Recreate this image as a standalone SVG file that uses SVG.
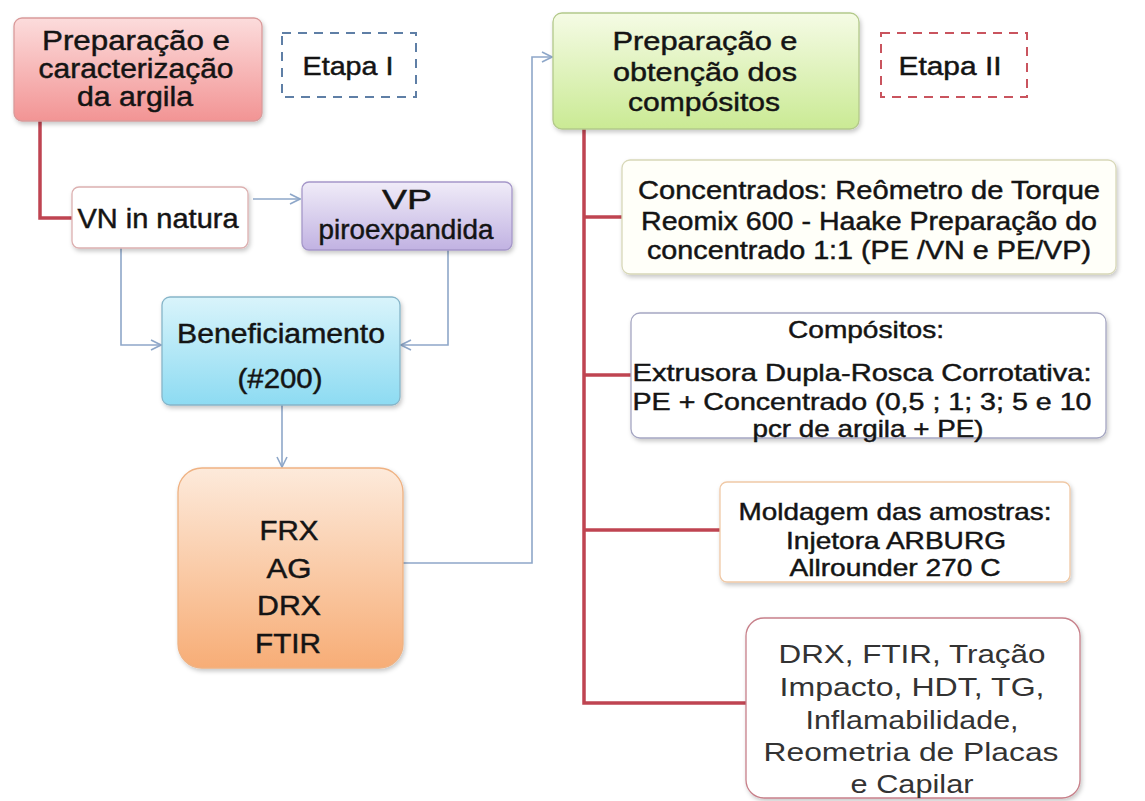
<svg xmlns="http://www.w3.org/2000/svg" width="1145" height="801" viewBox="0 0 1145 801">
<defs>
<style>
text{font-family:"Liberation Sans",Arial,sans-serif;fill:#141414;text-anchor:middle;stroke:#141414;stroke-width:0.45}
.t27{font-size:27px}
.t26{font-size:26px}
.t25{font-size:25px}
.t24{font-size:24px}
.thin{fill:#333;stroke:none}
.box{stroke-width:1.3}
.blue{fill:none;stroke:#8ea7c9;stroke-width:1.6}
.red{fill:none;stroke:#bf4451;stroke-width:3.5;stroke-linejoin:miter}
.dash{fill:#fff;stroke-width:2;stroke-dasharray:9 7}
</style>
<linearGradient id="gRed" x1="0" y1="0" x2="0" y2="1"><stop offset="0" stop-color="#fcdcdc"/><stop offset="1" stop-color="#f29494"/></linearGradient>
<linearGradient id="gPurple" x1="0" y1="0" x2="0" y2="1"><stop offset="0" stop-color="#f0ecf8"/><stop offset="1" stop-color="#c1b2e2"/></linearGradient>
<linearGradient id="gBlue" x1="0" y1="0" x2="0" y2="1"><stop offset="0" stop-color="#d9f4fb"/><stop offset="1" stop-color="#8ddbf2"/></linearGradient>
<linearGradient id="gOrange" x1="0" y1="0" x2="0" y2="1"><stop offset="0" stop-color="#fdeadb"/><stop offset="1" stop-color="#f7ad76"/></linearGradient>
<linearGradient id="gGreen" x1="0" y1="0" x2="0" y2="1"><stop offset="0" stop-color="#f5fbe5"/><stop offset="1" stop-color="#caea94"/></linearGradient>
<filter id="sh" x="-10%" y="-10%" width="125%" height="130%"><feDropShadow dx="1.5" dy="2.5" stdDeviation="2" flood-color="#000" flood-opacity="0.22"/></filter>
<marker id="arr" viewBox="0 0 12 12" refX="11" refY="6" markerWidth="12" markerHeight="12" markerUnits="userSpaceOnUse" orient="auto"><path d="M1,1 L11,6 L1,11" fill="none" stroke="#8ea7c9" stroke-width="1.6"/></marker>
</defs>
<rect width="1145" height="801" fill="#fff"/>

<g id="connectors">
<path class="red" d="M40 121 V218 H72"/>
<path class="red" d="M584 128 V703 H746"/>
<path class="red" d="M584 217 H622"/>
<path class="red" d="M584 375 H631"/>
<path class="red" d="M584 530 H720"/>
<path class="blue" d="M253 199 H300" marker-end="url(#arr)"/>
<path class="blue" d="M121 248 V345 H161" marker-end="url(#arr)"/>
<path class="blue" d="M448 250 V345 H401" marker-end="url(#arr)"/>
<path class="blue" d="M282 405 V467" marker-end="url(#arr)"/>
<path class="blue" d="M403 563 H532 V57 H552" marker-end="url(#arr)"/>
</g>

<g id="n-prep1">
<rect class="box" x="14" y="18" width="248" height="103" rx="8" fill="url(#gRed)" stroke="#d99a9a" filter="url(#sh)"/>
<text class="t27"><tspan x="136" y="50" textLength="188" lengthAdjust="spacingAndGlyphs">Preparação e</tspan><tspan x="136" y="78" textLength="195" lengthAdjust="spacingAndGlyphs">caracterização</tspan><tspan x="135" y="106" textLength="116" lengthAdjust="spacingAndGlyphs">da argila</tspan></text>
</g>

<g id="n-etapa1">
<rect class="dash" x="282" y="33" width="134" height="64" stroke="#5f7fa6"/>
<text class="t26" x="348" y="75" textLength="91" lengthAdjust="spacingAndGlyphs">Etapa I</text>
</g>

<g id="n-vn">
<rect class="box" x="72" y="187" width="176" height="61" rx="7" fill="#fff" stroke="#dcb0b0" filter="url(#sh)"/>
<text class="t27" x="158" y="228" textLength="161" lengthAdjust="spacingAndGlyphs">VN in natura</text>
</g>

<g id="n-vp">
<rect class="box" x="302" y="182" width="210" height="68" rx="7" fill="url(#gPurple)" stroke="#a597c9" filter="url(#sh)"/>
<text class="t27"><tspan x="407" y="209" textLength="50" lengthAdjust="spacingAndGlyphs">VP</tspan><tspan x="406" y="239" textLength="175" lengthAdjust="spacingAndGlyphs">piroexpandida</tspan></text>
</g>

<g id="n-benef">
<rect class="box" x="162" y="297" width="238" height="108" rx="8" fill="url(#gBlue)" stroke="#86b5c9" filter="url(#sh)"/>
<text class="t27"><tspan x="281" y="343" textLength="208" lengthAdjust="spacingAndGlyphs">Beneficiamento</tspan><tspan x="280" y="388" textLength="85" lengthAdjust="spacingAndGlyphs">(#200)</tspan></text>
</g>

<g id="n-frx">
<rect class="box" x="178" y="468" width="225" height="200" rx="24" fill="url(#gOrange)" stroke="#efb283" filter="url(#sh)"/>
<text class="t27"><tspan x="289" y="540" textLength="59" lengthAdjust="spacingAndGlyphs">FRX</tspan><tspan x="289" y="578" textLength="45" lengthAdjust="spacingAndGlyphs">AG</tspan><tspan x="289" y="615" textLength="64" lengthAdjust="spacingAndGlyphs">DRX</tspan><tspan x="288" y="653" textLength="66" lengthAdjust="spacingAndGlyphs">FTIR</tspan></text>
</g>

<g id="n-prep2">
<rect class="box" x="553" y="13" width="306" height="116" rx="9" fill="url(#gGreen)" stroke="#b3c98a" filter="url(#sh)"/>
<text class="t26"><tspan x="705" y="50" textLength="185" lengthAdjust="spacingAndGlyphs">Preparação e</tspan><tspan x="705" y="81" textLength="184" lengthAdjust="spacingAndGlyphs">obtenção dos</tspan><tspan x="704" y="111" textLength="152" lengthAdjust="spacingAndGlyphs">compósitos</tspan></text>
</g>

<g id="n-etapa2">
<rect class="dash" x="881" y="33" width="146" height="64" stroke="#c9545e"/>
<text class="t26" x="950" y="75" textLength="103" lengthAdjust="spacingAndGlyphs">Etapa II</text>
</g>

<g id="n-conc">
<rect class="box" x="622" y="160" width="494" height="114" rx="8" fill="#fffff9" stroke="#d8d8b8" filter="url(#sh)"/>
<text class="t25"><tspan x="869" y="199" textLength="462" lengthAdjust="spacingAndGlyphs">Concentrados: Reômetro de  Torque</tspan><tspan x="869" y="230" textLength="456" lengthAdjust="spacingAndGlyphs">Reomix 600 - Haake Preparação do</tspan><tspan x="869" y="259" textLength="444" lengthAdjust="spacingAndGlyphs">concentrado  1:1 (PE /VN e PE/VP)</tspan></text>
</g>

<g id="n-comp">
<rect class="box" x="631" y="313" width="475" height="125" rx="9" fill="#fff" stroke="#a5a6c2" filter="url(#sh)"/>
<text class="t24"><tspan x="866" y="338" textLength="156" lengthAdjust="spacingAndGlyphs">Compósitos:</tspan><tspan x="862" y="381" textLength="459" lengthAdjust="spacingAndGlyphs">Extrusora Dupla-Rosca Corrotativa:</tspan><tspan x="862" y="410" textLength="459" lengthAdjust="spacingAndGlyphs">PE + Concentrado (0,5 ; 1; 3; 5 e 10</tspan><tspan x="868" y="437" textLength="231" lengthAdjust="spacingAndGlyphs">pcr de argila + PE)</tspan></text>
</g>

<g id="n-mold">
<rect class="box" x="720" y="482" width="350" height="100" rx="7" fill="#fff" stroke="#f0c9a6" filter="url(#sh)"/>
<text class="t24"><tspan x="895" y="520" textLength="313" lengthAdjust="spacingAndGlyphs">Moldagem das amostras:</tspan><tspan x="896" y="549" textLength="220" lengthAdjust="spacingAndGlyphs">Injetora ARBURG</tspan><tspan x="895" y="576" textLength="211" lengthAdjust="spacingAndGlyphs">Allrounder 270 C</tspan></text>
</g>

<g id="n-ens">
<rect class="box" x="746" y="618" width="334" height="180" rx="18" fill="#fff" stroke="#c7808a" filter="url(#sh)"/>
<text class="t26 thin"><tspan x="912" y="663" textLength="267" lengthAdjust="spacingAndGlyphs">DRX,  FTIR, Tração</tspan><tspan x="912" y="696" textLength="265" lengthAdjust="spacingAndGlyphs">Impacto, HDT, TG,</tspan><tspan x="912" y="729" textLength="213" lengthAdjust="spacingAndGlyphs">Inflamabilidade,</tspan><tspan x="911" y="761" textLength="295" lengthAdjust="spacingAndGlyphs">Reometria  de  Placas</tspan><tspan x="912" y="793" textLength="123" lengthAdjust="spacingAndGlyphs">e Capilar</tspan></text>
</g>
</svg>
